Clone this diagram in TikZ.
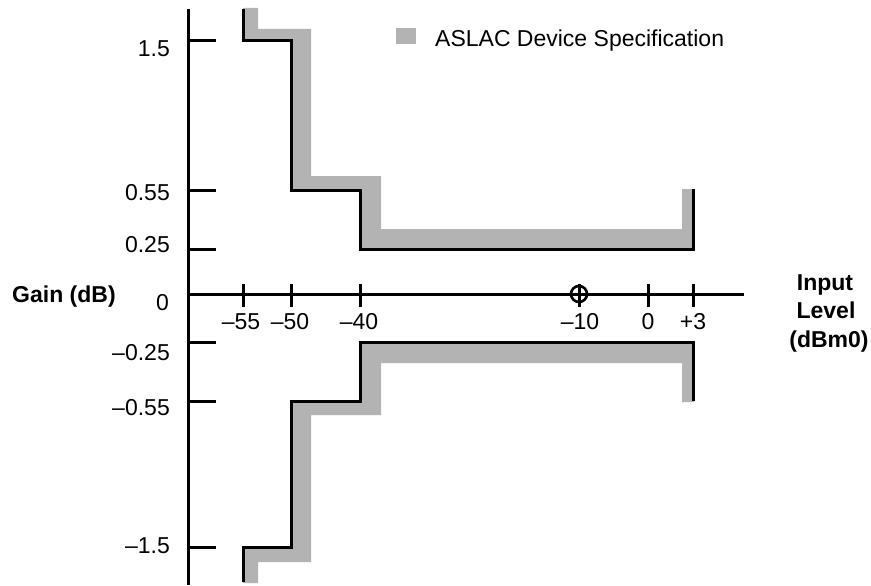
\documentclass[tikz,border=0pt]{standalone}
\usepackage{fontspec}
\setmainfont{Liberation Sans}
\definecolor{specgray}{RGB}{179,179,179}
\begin{document}
\begin{tikzpicture}[x=1pt,y=-1pt,
  axis/.style={line width=3pt},
  curve/.style={line width=3pt},
  band/.style={fill=specgray,draw=none},
  lab/.style={font=\fontsize{23}{27}\selectfont,inner sep=0pt},
  blab/.style={font=\fontsize{23}{27}\selectfont\bfseries,inner sep=0pt}]
\useasboundingbox (0,0) rectangle (871,586);
% gray specification bands
\fill[band] (243,8)--(258,8)--(258,29)--(311,29)--(311,176)--(381,176)--(381,229)--(682,229)--(682,189)--(694,189)--(694,249)--(360,249)--(360,190)--(291,190)--(291,41)--(243,41)--cycle;
\fill[band] (360,342)--(694,342)--(694,402)--(682,402)--(682,363)--(381,363)--(381,415)--(311,415)--(311,562)--(258,562)--(258,583)--(243,583)--(243,547)--(291,547)--(291,401)--(360,401)--cycle;
% axes
\coordinate (ytop) at (188,9);
\coordinate (ybot) at (188,585);
\coordinate (xleft) at (188,294);
\coordinate (xright) at (744,294);
\draw[axis] (ytop) -- (ybot);
\draw[axis] (xleft) -- (xright);
% y ticks
\foreach \y in {41,190,249,342,401,547} \draw[axis] (188,\y) -- (216,\y);
% x ticks
\foreach \x in {243,291,360,579,648,693} \draw[axis] (\x,284) -- (\x,307);
\node[draw,circle,line width=2.6pt,minimum size=16pt,inner sep=0pt] (mark) at (579,294) {};
% black curves
\draw[curve,line join=miter] (243,9)--(243,41)--(291,41)--(291,190)--(360,190)--(360,249)--(693,249)--(693,189);
\draw[curve,line join=miter] (243,582)--(243,547)--(291,547)--(291,401)--(360,401)--(360,342)--(693,342)--(693,401);
% y labels
\node[lab,anchor=base east] (l15) at (170,56.5) {1.5};
\node[lab,anchor=base east] (l055) at (170,200) {0.55};
\node[lab,anchor=base east] (l025) at (170,252) {0.25};
\node[lab,anchor=base east] (l0) at (169,310.5) {0};
\node[lab,anchor=base east] (lm025) at (170,360) {–0.25};
\node[lab,anchor=base east] (lm055) at (170,415) {–0.55};
\node[lab,anchor=base east] (lm15) at (170,553) {–1.5};
% x labels
\node[lab,anchor=base] (xm55) at (241,329) {–55};
\node[lab,anchor=base] (xm50) at (290,329) {–50};
\node[lab,anchor=base] (xm40) at (359,329) {–40};
\node[lab,anchor=base] (xm10) at (580,329) {–10};
\node[lab,anchor=base] (x0) at (648,329) {0};
\node[lab,anchor=base] (xp3) at (693,329) {+3};
% axis titles
\node[blab,anchor=base west] (gain) at (12,302) {Gain (dB)};
\node[blab,anchor=base] (in1) at (825,290) {Input};
\node[blab,anchor=base] (in2) at (826,318.5) {Level};
\node[blab,anchor=base] (in3) at (829,347) {(dBm0)};
% legend
\fill[band] (396,28) rectangle (416,44);
\node[lab,anchor=base west] (leg) at (435,46.5) {ASLAC Device Specification};
\end{tikzpicture}
\end{document}
